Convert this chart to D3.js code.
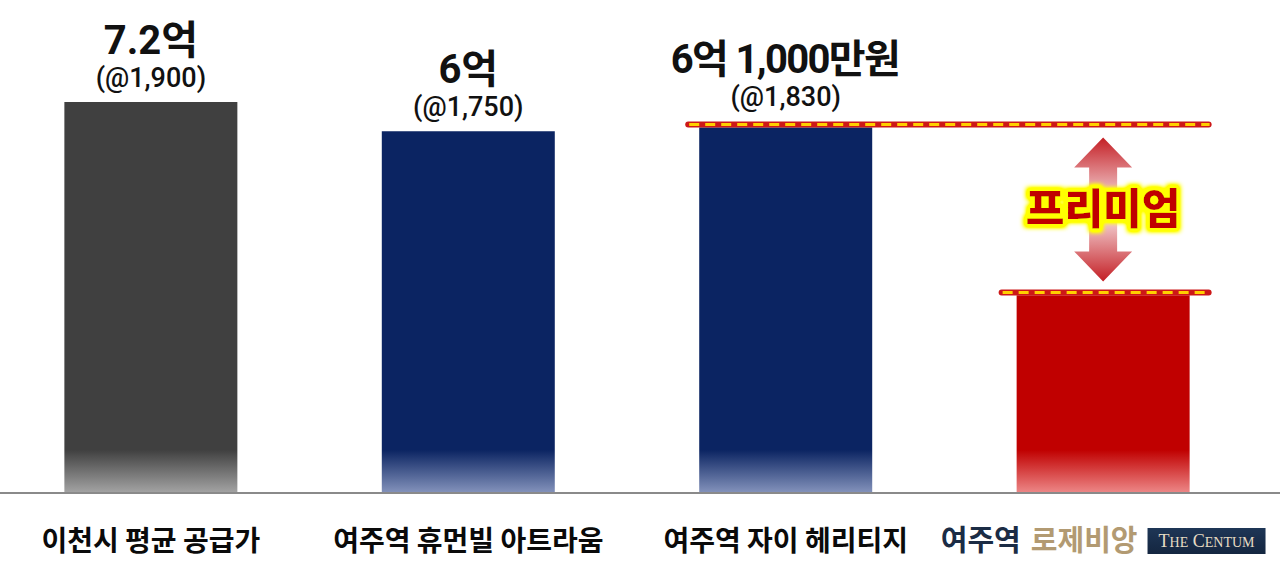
<!DOCTYPE html>
<html><head><meta charset="utf-8">
<script src="https://cdn.jsdelivr.net/npm/d3@7"></script>
<style>html,body{margin:0;padding:0;background:#fff;overflow:hidden}</style>
</head><body>
<svg id="chart" width="1280" height="578"></svg>
<script>
// ---- data ----
const categories = ["이천시 평균 공급가", "여주역 휴먼빌 아트라움", "여주역 자이 헤리티지", "여주역 로제비앙"];
const priceLabels = ["7.2억", "6억", "6억 1,000만원", null];
const unitPriceLabels = ["(@1,900)", "(@1,750)", "(@1,830)", null];
// bar levels as drawn in the picture (억-scale)
const barLevels = [7.2, 6.66, 6.73, 3.63];
const barColors = [["#404040", "#a2a2a2"], ["#0b2462", "#8291ba"], ["#0b2462", "#8291ba"], ["#c00000", "#ec8585"]];
const premiumText = "프리미엄";
const brandParts = ["여주역", "로제비앙"];
const logoText = "THE CENTUM";

const W = 1280, H = 578, baseY = 492;
const svg = d3.select("#chart");
const defs = svg.append("defs");

const x = d3.scaleBand().domain(categories).range([-8, 1262]).paddingInner(0.455).paddingOuter(0.228);
const y = d3.scaleLinear().domain([0, 7.2]).range([baseY, 102]);

// gradients
barColors.forEach((c, i) => {
  const g = defs.append("linearGradient").attr("id", "bg" + i)
    .attr("gradientUnits", "userSpaceOnUse").attr("x1", 0).attr("x2", 0).attr("y1", baseY - 42).attr("y2", baseY);
  g.append("stop").attr("offset", 0).attr("stop-color", c[0]);
  g.append("stop").attr("offset", 1).attr("stop-color", c[1]);
});
const ag = defs.append("linearGradient").attr("id", "arrowGrad").attr("x1", 0).attr("x2", 0).attr("y1", 0).attr("y2", 1);
[[0, "#c41f25"], [0.5, "#fbeef0"], [1, "#c41f25"]].forEach(s => ag.append("stop").attr("offset", s[0]).attr("stop-color", s[1]));

// glow filters
const fr = defs.append("filter").attr("id", "redGlow").attr("x", "-5%").attr("y", "-300%").attr("width", "110%").attr("height", "700%");
fr.append("feGaussianBlur").attr("stdDeviation", 1.8);
const fy = defs.append("filter").attr("id", "yellowGlow").attr("x", "-20%").attr("y", "-40%").attr("width", "140%").attr("height", "180%");
fy.append("feMorphology").attr("in", "SourceAlpha").attr("operator", "dilate").attr("radius", 3).attr("result", "d");
fy.append("feGaussianBlur").attr("in", "d").attr("stdDeviation", 2.5).attr("result", "b");
fy.append("feFlood").attr("flood-color", "#ffff00").attr("result", "f");
fy.append("feComposite").attr("in", "f").attr("in2", "b").attr("operator", "in").attr("result", "g");
fy.append("feComponentTransfer").attr("in", "g").attr("result", "g2")
  .append("feFuncA").attr("type", "linear").attr("slope", 2.2);
const fm = fy.append("feMerge");
fm.append("feMergeNode").attr("in", "g2");
fm.append("feMergeNode").attr("in", "SourceGraphic");

// bars
svg.append("g").selectAll("rect").data(barLevels).join("rect")
  .attr("x", (d, i) => x(categories[i]))
  .attr("y", d => y(d))
  .attr("width", x.bandwidth())
  .attr("height", d => baseY - y(d))
  .attr("fill", (d, i) => `url(#bg${i})`);

// baseline
svg.append("line").attr("x1", 0).attr("x2", W).attr("y1", baseY + 1).attr("y2", baseY + 1)
  .attr("stroke", "#8a8a8a").attr("stroke-width", 2);

// value labels
const numFont = "Roboto, 'Noto Sans CJK KR', sans-serif";
barLevels.forEach((v, i) => {
  if (!priceLabels[i]) return;
  const cx = x(categories[i]) + x.bandwidth() / 2;
  const extra = i === 2 ? 6 : 0;
  svg.append("text").attr("x", cx).attr("y", y(v) - 48 - extra)
    .attr("text-anchor", "middle").attr("font-family", numFont).attr("font-weight", 700)
    .attr("font-size", 40).attr("fill", "#111").attr("textLength", i === 2 ? 230 : null).text(priceLabels[i]);
  svg.append("text").attr("x", cx).attr("y", y(v) - 15 - extra)
    .attr("text-anchor", "middle").attr("font-family", numFont).attr("font-weight", 500)
    .attr("font-size", 27).attr("fill", "#111").text(unitPriceLabels[i]);
});

// dashed glowing lines
function glowLine(x1, x2, yy) {
  const g = svg.append("g");
  g.append("line").attr("x1", x1).attr("x2", x2).attr("y1", yy).attr("y2", yy)
    .attr("stroke", "#e00000").attr("stroke-width", 10).attr("stroke-linecap", "round")
    .attr("opacity", 0.75).attr("filter", "url(#redGlow)");
  g.append("line").attr("x1", x1 + 1).attr("x2", x2 - 1).attr("y1", yy).attr("y2", yy)
    .attr("stroke", "#c80000").attr("stroke-width", 6).attr("stroke-linecap", "round").attr("opacity", 0.9);
  g.append("line").attr("x1", x1 + 2).attr("x2", x2).attr("y1", yy).attr("y2", yy)
    .attr("stroke", "#ffd000").attr("stroke-width", 3).attr("stroke-dasharray", "10,6");
}
const x3 = x(categories[2]), x4 = x(categories[3]);
const topLineY = y(barLevels[2]) - 3, lowLineY = y(barLevels[3]) - 3;
glowLine(x3 - 12, x4 + x.bandwidth() + 20, topLineY);
glowLine(x4 - 16, x4 + x.bandwidth() + 20, lowLineY);

// double arrow
const acx = x4 + x.bandwidth() / 2;
const aTop = topLineY + 13, aBot = lowLineY - 11, hw = 29, hh = 30, sw = 14;
const arrowPts = [
  [acx, aTop], [acx + hw, aTop + hh], [acx + sw, aTop + hh], [acx + sw, aBot - hh], [acx + hw, aBot - hh],
  [acx, aBot], [acx - hw, aBot - hh], [acx - sw, aBot - hh], [acx - sw, aTop + hh], [acx - hw, aTop + hh]
];
svg.append("path").attr("d", d3.line()(arrowPts) + "Z").attr("fill", "url(#arrowGrad)");

// premium text
svg.append("text").attr("x", acx).attr("y", (aTop + aBot) / 2 + 15)
  .attr("text-anchor", "middle").attr("font-family", "'Noto Sans CJK KR', sans-serif")
  .attr("font-weight", 900).attr("font-size", 42).attr("fill", "#c00000")
  .attr("filter", "url(#yellowGlow)").text(premiumText);

// category labels
const catFont = "'Noto Sans CJK KR', sans-serif";
categories.slice(0, 3).forEach((c, i) => {
  svg.append("text").attr("x", x(c) + x.bandwidth() / 2).attr("y", 551)
    .attr("text-anchor", "middle").attr("font-family", catFont).attr("font-weight", 700)
    .attr("font-size", 28).attr("fill", "#0a0a0a").text(c);
});

// brand label with logo
const brand = svg.append("g");
const t1 = brand.append("text").attr("x", 0).attr("y", 551).attr("font-family", catFont).attr("font-weight", 700)
  .attr("font-size", 29).attr("fill", "#1b2c45").text(brandParts[0]);
const w1 = t1.node().getComputedTextLength();
const t2 = brand.append("text").attr("x", w1 + 10).attr("y", 551).attr("font-family", catFont).attr("font-weight", 700)
  .attr("font-size", 29).attr("fill", "#b29a72").text(brandParts[1]);
const w2 = t2.node().getComputedTextLength();
const lx = w1 + 10 + w2 + 10;
const lg = defs.append("linearGradient").attr("id", "logoGrad").attr("x1", 0).attr("x2", 0).attr("y1", 0).attr("y2", 1);
lg.append("stop").attr("offset", 0).attr("stop-color", "#1e3656");
lg.append("stop").attr("offset", 1).attr("stop-color", "#142640");
brand.append("rect").attr("x", lx).attr("y", 528).attr("width", 118).attr("height", 26).attr("fill", "url(#logoGrad)");
const lt = brand.append("text").attr("x", lx + 59).attr("y", 547).attr("text-anchor", "middle")
  .attr("font-family", "'Liberation Serif', serif").attr("fill", "#e6dcc4");
const words = logoText.split(" ");
words.forEach((wd, k) => {
  lt.append("tspan").attr("font-size", 18).text((k ? " " : "") + wd[0]);
  lt.append("tspan").attr("font-size", 14).text(wd.slice(1));
});
const totalW = lx + 118;
brand.attr("transform", `translate(${acx - totalW / 2},0)`);
</script>
</body></html>
